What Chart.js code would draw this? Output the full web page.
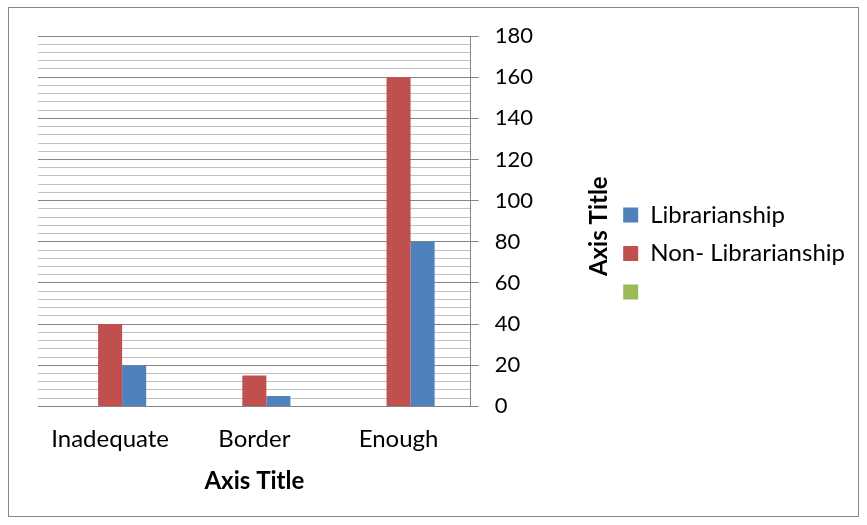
<!DOCTYPE html>
<html>
<head>
<meta charset="utf-8">
<script src="https://cdn.jsdelivr.net/npm/chart.js@4/dist/chart.umd.min.js"></script>
<style>
  html, body { margin: 0; padding: 0; background: #fff; }
  #wrap { width: 867px; height: 525px; position: relative; }
</style>
</head>
<body>
<div id="wrap"><canvas id="chart" width="867" height="525"></canvas></div>
<script>
// --- chart data ---
const categories = ['Inadequate', 'Border', 'Enough'];
const librarianship = [20, 5, 80];
const nonLibrarianship = [40, 15, 160];
const blankSeries = [0, 0, 0];
const yMin = 0;
const yMax = 180;
const yMajorStep = 20;
const yMinorStep = 4;
const xAxisTitle = 'Axis Title';
const yAxisTitle = 'Axis Title';

const FONT = 'Lato, "Open Sans", sans-serif';
const MAJOR_GRID = '#868686';
const MINOR_GRID = '#bfbfbf';

// frame round the whole chart + rotated y title
const decorations = {
    id: 'decorations',
    afterLayout(chart) {
        // nudge the legend block up a little, like the original
        const lg = chart.legend;
        if (lg) {
            lg.top -= 17;
            lg.bottom -= 17;
        }
    },
    beforeDraw(chart) {
        const c = chart.ctx;
        c.save();
        c.fillStyle = '#fff';
        c.fillRect(0, 0, chart.width, chart.height);
        c.strokeStyle = '#868686';
        c.lineWidth = 1;
        c.strokeRect(8.5, 7.5, 850, 509);
        c.restore();
    },
    afterDraw(chart) {
        const c = chart.ctx;
        const area = chart.chartArea;
        c.save();
        c.translate(area.right + 129, (area.top + area.bottom) / 2 + 5);
        c.rotate(-Math.PI / 2);
        c.font = 'bold 24px ' + FONT;
        c.fillStyle = '#000';
        c.textAlign = 'center';
        c.textBaseline = 'middle';
        c.fillText(yAxisTitle, 0, 0);
        c.restore();
    }
};

const ctx = document.getElementById('chart');

new Chart(ctx, {
    type: 'bar',
    data: {
        labels: categories,
        // order left-to-right inside a group: blank, red, blue
        datasets: [{
            label: '',
            data: blankSeries,
            backgroundColor: '#9bbb59'
        }, {
            label: 'Non- Librarianship',
            data: nonLibrarianship,
            backgroundColor: '#c0504d'
        }, {
            label: 'Librarianship',
            data: librarianship,
            backgroundColor: '#4f81bd'
        }]
    },
    options: {
        responsive: false,
        animation: false,
        layout: {
            padding: { left: 38, top: 36, right: 12, bottom: 20 }
        },
        datasets: {
            bar: {
                categoryPercentage: 0.5,
                barPercentage: 1.0,
                borderWidth: 0
            }
        },
        plugins: {
            title: { display: false },
            tooltip: { enabled: false },
            legend: {
                position: 'right',
                reverse: true,
                maxWidth: 300,
                labels: {
                    boxWidth: 15,
                    boxHeight: 15,
                    padding: 14.5,
                    color: '#000',
                    font: { family: FONT, size: 24 }
                }
            }
        },
        scales: {
            x: {
                grid: { display: false, drawTicks: false },
                border: { display: false },
                ticks: {
                    padding: 18,
                    color: '#000',
                    font: { family: FONT, size: 24 }
                },
                title: {
                    display: true,
                    text: xAxisTitle,
                    color: '#000',
                    padding: { top: -4, bottom: 9 },
                    font: { family: FONT, size: 24, weight: 'bold' }
                }
            },
            y: {
                position: 'right',
                min: yMin,
                max: yMax,
                afterFit(scale) {
                    scale.width = 138;
                },
                ticks: {
                    stepSize: yMinorStep,
                    autoSkip: false,
                    padding: 16,
                    color: '#000',
                    font: { family: FONT, size: 22 },
                    callback: (value) => (value % yMajorStep === 0 ? value : '')
                },
                grid: {
                    tickLength: 8,
                    color: (c) => (c.tick && c.tick.value % yMajorStep === 0 ? MAJOR_GRID : MINOR_GRID),
                    tickColor: (c) => (c.tick && c.tick.value % yMajorStep === 0 ? MAJOR_GRID : 'rgba(0,0,0,0)')
                },
                border: { display: true, color: MAJOR_GRID, width: 1 }
            }
        }
    },
    plugins: [decorations]
});
</script>
</body>
</html>
